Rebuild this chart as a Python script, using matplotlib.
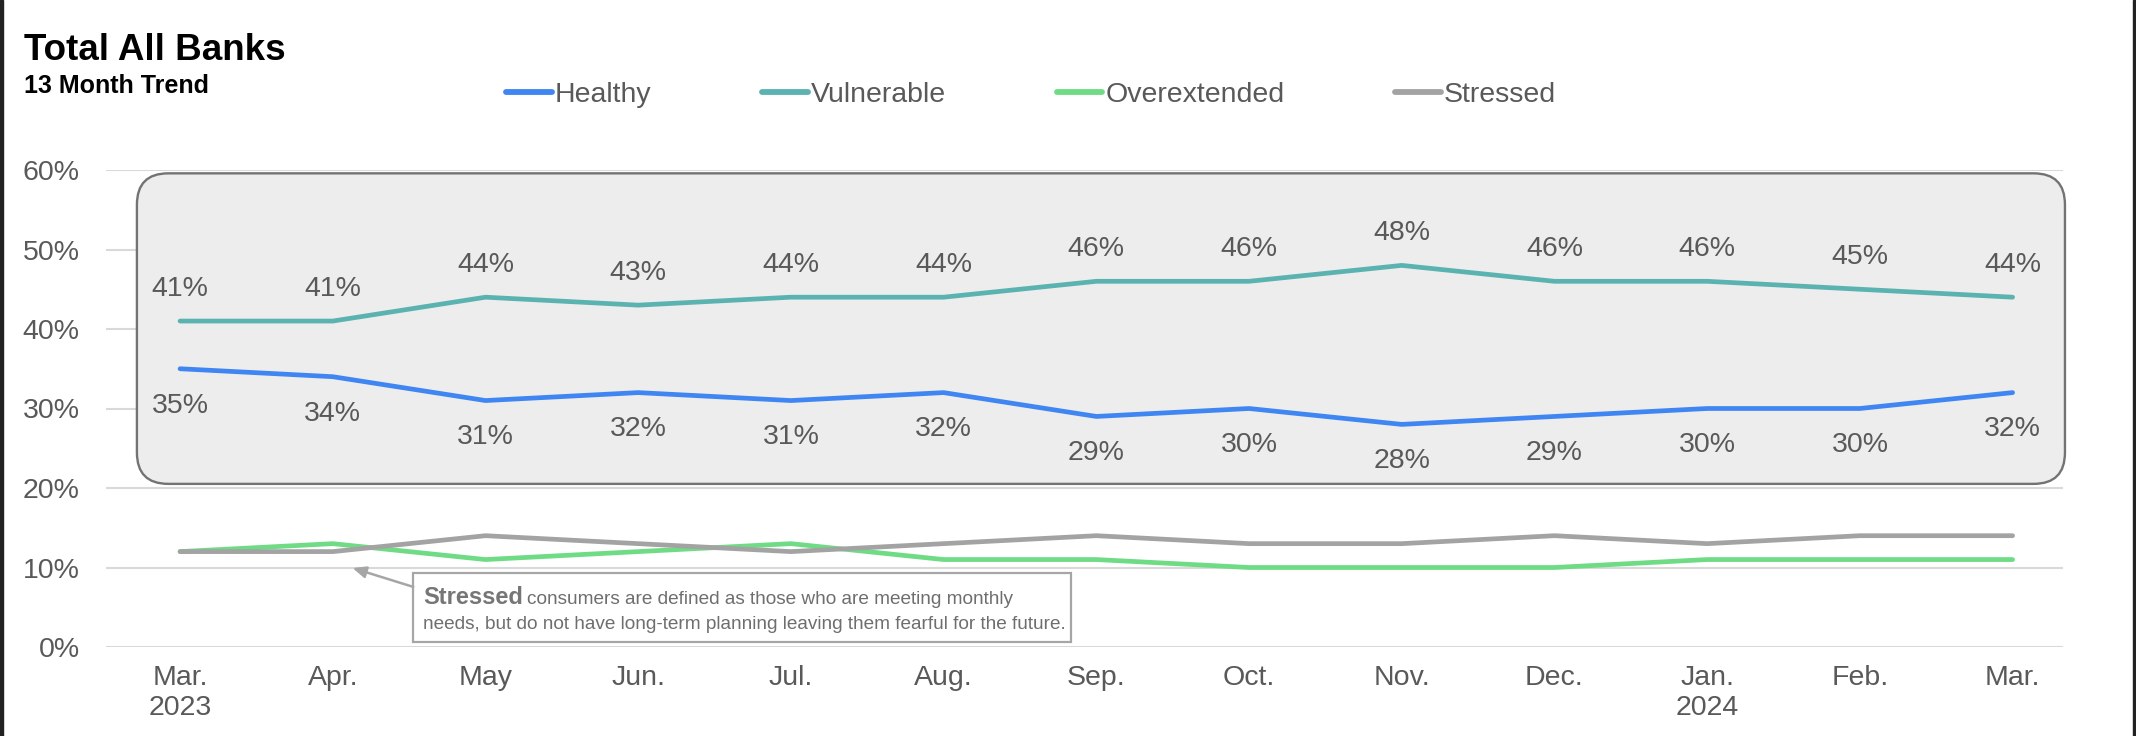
import matplotlib
matplotlib.use("Agg")
import matplotlib.pyplot as plt
from matplotlib.patches import FancyBboxPatch, Rectangle

plt.rcParams['font.family'] = ['Liberation Sans', 'DejaVu Sans']

months = ["Mar.\n2023", "Apr.", "May", "Jun.", "Jul.", "Aug.", "Sep.",
          "Oct.", "Nov.", "Dec.", "Jan.\n2024", "Feb.", "Mar."]
healthy = [35, 34, 31, 32, 31, 32, 29, 30, 28, 29, 30, 30, 32]
vulnerable = [41, 41, 44, 43, 44, 44, 46, 46, 48, 46, 46, 45, 44]
overextended = [12, 13, 11, 12, 13, 11, 11, 10, 10, 10, 11, 11, 11]
stressed = [12, 12, 14, 13, 12, 13, 14, 13, 13, 14, 13, 14, 14]
yticks = [0, 10, 20, 30, 40, 50, 60]

c_healthy = '#3F86F3'
c_vuln = '#5BB3B1'
c_over = '#6FDC85'
c_stress = '#A3A3A3'
txt = '#595959'

fig = plt.figure(figsize=(21.36, 7.36), dpi=100)
ax = fig.add_axes([106/2136, 1-647/736, 1957/2136, 477/736])

x = list(range(len(months)))
ax.plot(x, healthy, color=c_healthy, lw=3.4, solid_capstyle='round', label='Healthy', zorder=4)
ax.plot(x, vulnerable, color=c_vuln, lw=3.4, solid_capstyle='round', label='Vulnerable', zorder=4)
ax.plot(x, overextended, color=c_over, lw=3.4, solid_capstyle='round', label='Overextended', zorder=4)
ax.plot(x, stressed, color=c_stress, lw=3.4, solid_capstyle='round', label='Stressed', zorder=4)

for i in x:
    ax.annotate(f"{vulnerable[i]}%", (i, vulnerable[i]), xytext=(0, 23), textcoords='offset points',
                ha='center', va='center', fontsize=20.5, color=txt, zorder=5)
    ax.annotate(f"{healthy[i]}%", (i, healthy[i]), xytext=(0, -26.5), textcoords='offset points',
                ha='center', va='center', fontsize=20.5, color=txt, zorder=5)

ax.set_xlim(-0.485, 12.33)
ax.set_ylim(0, 60)
ax.set_yticks(yticks)
ax.set_yticklabels([f"{v}%" for v in yticks])
ax.set_xticks(x)
ax.set_xticklabels(months)
ax.tick_params(axis='both', length=0, labelsize=20.5, labelcolor=txt)
ax.tick_params(axis='y', pad=19)
ax.tick_params(axis='x', pad=13)
for s in ax.spines.values():
    s.set_visible(False)
ax.yaxis.grid(True, color='#D9D9D9', lw=1.5, zorder=2)
ax.set_axisbelow(True)

# rounded grey panel behind the two top series
axw, axh = 1957, 477
box = FancyBboxPatch((0.0158, 0.342), 1.001-0.0158, 0.993-0.342,
                     boxstyle="round,pad=0,rounding_size=0.016",
                     mutation_aspect=axw/axh, transform=ax.transAxes,
                     facecolor='#EDEDED', edgecolor='#737373', lw=1.7,
                     clip_on=False, zorder=1)
ax.add_patch(box)

# note about stressed consumers
ax.add_patch(Rectangle((0.157, 0.0105), 0.493-0.157, 0.155-0.0105, transform=ax.transAxes,
                       facecolor='white', edgecolor='#A6A6A6', lw=1.6, zorder=5))
ax.annotate("", xy=(0.126, 0.1656), xycoords='axes fraction',
            xytext=(0.157, 0.126), textcoords='axes fraction',
            arrowprops=dict(arrowstyle='-|>,head_length=0.8,head_width=0.35', color='#A6A6A6', lw=1.8,
                            shrinkA=0, shrinkB=0), zorder=5)
t1 = ax.text(0.162, 0.090, "Stressed", transform=ax.transAxes, fontsize=17,
             fontweight='bold', color='#767676', va='baseline', zorder=6)
fig.canvas.draw()
bb = t1.get_window_extent()
x_end = ax.transAxes.inverted().transform((bb.x1, bb.y0))[0]
ax.text(x_end + 0.002, 0.090, "consumers are defined as those who are meeting monthly",
        transform=ax.transAxes, fontsize=13.7, color='#6E6E6E', va='baseline', zorder=6)
ax.text(0.162, 0.038, "needs, but do not have long-term planning leaving them fearful for the future.",
        transform=ax.transAxes, fontsize=13.7, color='#6E6E6E', va='baseline', zorder=6)

fig.text(24/2136, 1-60/736, "Total All Banks", fontsize=26.5, fontweight='bold', color='black', va='baseline')
fig.text(24/2136, 1-93/736, "13 Month Trend", fontsize=18, fontweight='bold', color='black', va='baseline')

leg = ax.legend(loc='center', bbox_to_anchor=(1031/2136, 1-95/736), bbox_transform=fig.transFigure,
                ncol=4, frameon=False, fontsize=20.5, handlelength=1.6, handletextpad=0.1,
                columnspacing=3.9, labelcolor=txt)
for h in leg.get_lines():
    h.set_linewidth(4.2)

# dark frame edges of the original screenshot
fig.patches.append(Rectangle((0, 0), 3/2136, 1, transform=fig.transFigure, color='#222222', zorder=10))
fig.patches.append(Rectangle((1-3/2136, 0), 3/2136, 1, transform=fig.transFigure, color='#222222', zorder=10))

fig.savefig("out.png", dpi=100)
